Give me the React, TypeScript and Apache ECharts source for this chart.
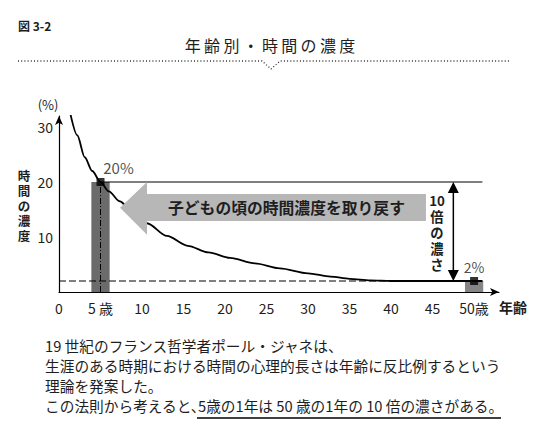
import React, { useEffect, useRef } from "react";
import * as echarts from "echarts";

// ---- data ----
const xTicks = [0, 5, 10, 15, 20, 25, 30, 35, 40, 45, 50];
const yTicks = [10, 20, 30];
const curveAges = [1.4, 2.2, 3.1, 4, 5, 6, 7.3, 9, 10.6, 13, 15.5, 18, 20.6, 23.6, 26.6, 30, 32.7, 35, 37.5, 40, 45, 51];
const curveValues = [32.2, 28.5, 24.5, 22, 20, 18.3, 16.5, 14.3, 12.5, 10.2, 8.4, 7.2, 6.2, 5.2, 4.3, 3.4, 2.8, 2.4, 2.1, 2, 2, 2];
const highlightAges = [5, 50];
const highlightValues = [20, 2];
const highlightLabels = ["20%", "2%"];
const compareLevels = [20, 2];
const arrowAge = 47.5;

const FONT = "'Noto Sans CJK JP', 'Noto Sans', sans-serif";
const INK = "#1e1e1e";

const titleText = "年齢別・時間の濃度";
const yNameChars = ["時", "間", "の", "濃", "度"];
const ratioChars = ["10", "倍", "の", "濃", "さ"];
const bodyLines = [
  "19 世紀のフランス哲学者ポール・ジャネは、",
  "生涯のある時期における時間の心理的長さは年齢に反比例するという",
  "理論を発案した。",
];
const lastLineA = "この法則から考えると、";
const lastLineB = "5歳の1年は 50 歳の1年の 10 倍の濃さがある。";

export default function App() {
  const ref = useRef<HTMLDivElement>(null);
  useEffect(() => {
    if (!ref.current) return;
    const chart = echarts.init(ref.current, null, { renderer: "svg" });
    const barHalf = 1.1;
    const barColors = ["#6b6b6b", "#858585"];
    const bodyFont = `14.7px ${FONT}`;

    const titleGraphics = titleText.split("").map((ch, i) => ({
      type: "text",
      x: 270 + (i - 4) * 19.3,
      y: 45,
      style: { text: ch, font: `16px ${FONT}`, fill: INK, align: "center", verticalAlign: "middle" },
    }));

    const yNameGraphics = yNameChars.map((ch, i) => ({
      type: "text",
      x: 24,
      y: 175 + i * 15,
      style: { text: ch, font: `bold 12.5px ${FONT}`, fill: INK, align: "center", verticalAlign: "middle" },
    }));

    const ratioGraphics = ratioChars.map((ch, i) => ({
      type: "text",
      x: 437,
      y: 200 + i * 16,
      style: { text: ch, font: `bold 13.3px ${FONT}`, fill: INK, align: "center", verticalAlign: "middle" },
    }));

    const bodyGraphics = bodyLines.map((t, i) => ({
      type: "text",
      x: 45,
      y: 345 + i * 20,
      style: { text: t, font: bodyFont, fill: INK, align: "left", verticalAlign: "middle" },
    }));

    chart.setOption({
      animation: false,
      backgroundColor: "#ffffff",
      textStyle: { fontFamily: FONT },
      grid: { left: 59, right: 41, top: 116, bottom: 140 },
      xAxis: {
        type: "value",
        min: 0,
        max: 53,
        axisLine: { show: true, symbol: ["none", "arrow"], symbolSize: [6, 9], lineStyle: { color: "#000", width: 1.2 } },
        axisTick: { show: false },
        splitLine: { show: false },
        axisLabel: {
          customValues: xTicks,
          margin: 9,
          fontSize: 14,
          color: INK,
          fontFamily: FONT,
          formatter: (v: number) => (v === 5 ? "5 歳" : v === 50 ? "50歳" : String(v)),
        },
      },
      yAxis: {
        type: "value",
        min: 0,
        max: 32,
        axisLine: { show: true, symbol: ["none", "arrow"], symbolSize: [6, 9], lineStyle: { color: "#000", width: 1.2 } },
        axisTick: { show: false },
        splitLine: { show: false },
        axisLabel: { customValues: yTicks, margin: 6, fontSize: 14, color: INK, fontFamily: FONT },
      },
      series: [
        {
          type: "custom",
          z: 1,
          data: highlightAges.map((a, i) => [a, highlightValues[i]]),
          renderItem: (params: any, api: any) => {
            const x = api.value(0);
            const v = api.value(1);
            const p0 = api.coord([x - barHalf, v]);
            const p1 = api.coord([x + barHalf, 0]);
            return {
              type: "rect",
              shape: { x: p0[0], y: p0[1], width: p1[0] - p0[0], height: p1[1] - p0[1] },
              style: { fill: barColors[params.dataIndex] },
            };
          },
        },
        {
          type: "line",
          z: 2,
          symbol: "none",
          data: [[highlightAges[0], compareLevels[0]], [51, compareLevels[0]]],
          lineStyle: { color: "#000", width: 1 },
        },
        {
          type: "line",
          z: 2,
          symbol: "none",
          data: [[0, compareLevels[1]], [51, compareLevels[1]]],
          lineStyle: { color: "#000", width: 1, type: [7, 3] },
        },
        {
          type: "line",
          z: 2,
          symbol: "none",
          data: [[highlightAges[0], 0], [highlightAges[0], highlightValues[0]]],
          lineStyle: { color: "#000", width: 1, type: [6, 2, 1, 2] },
        },
        {
          type: "line",
          z: 3,
          symbol: "none",
          smooth: 0.3,
          smoothMonotone: "x",
          data: curveAges.map((a, i) => [a, curveValues[i]]),
          lineStyle: { color: "#000", width: 1.8 },
        },
        {
          // big grey arrow
          type: "custom",
          z: 4,
          data: [[7.35, 44.2]],
          renderItem: (params: any, api: any) => {
            const tipX = api.value(0);
            const tailX = api.value(1);
            const headX = 10.6;
            const pts = [
              [tipX, 15.3],
              [headX, 20],
              [headX, 17.8],
              [tailX, 17.8],
              [tailX, 12.9],
              [headX, 12.9],
              [headX, 10.4],
            ].map((p) => api.coord(p));
            const c = api.coord([27.4, 15.35]);
            return {
              type: "group",
              children: [
                { type: "polygon", shape: { points: pts }, style: { fill: "#b7b7b7" } },
                {
                  type: "text",
                  x: c[0],
                  y: c[1],
                  style: {
                    text: "子どもの頃の時間濃度を取り戻す",
                    font: `bold 15.8px ${FONT}`,
                    fill: INK,
                    align: "center",
                    verticalAlign: "middle",
                  },
                },
              ],
            };
          },
        },
        {
          // double arrow for "10倍の濃さ"
          type: "custom",
          z: 4,
          data: [[arrowAge, compareLevels[0], compareLevels[1]]],
          renderItem: (params: any, api: any) => {
            const top = api.coord([api.value(0), api.value(1)]);
            const bot = api.coord([api.value(0), api.value(2)]);
            const hw = 5.5;
            const hh = 11;
            return {
              type: "group",
              children: [
                { type: "line", shape: { x1: top[0], y1: top[1] + 4, x2: bot[0], y2: bot[1] - 4 }, style: { stroke: "#000", lineWidth: 1.5 } },
                { type: "polygon", shape: { points: [[top[0], top[1]], [top[0] - hw, top[1] + hh], [top[0] + hw, top[1] + hh]] }, style: { fill: "#000" } },
                { type: "polygon", shape: { points: [[bot[0], bot[1]], [bot[0] - hw, bot[1] - hh], [bot[0] + hw, bot[1] - hh]] }, style: { fill: "#000" } },
              ],
            };
          },
        },
        {
          type: "scatter",
          z: 5,
          symbol: "rect",
          symbolSize: 8,
          itemStyle: { color: "#000" },
          data: highlightAges.map((a, i) => ({
            value: [a, highlightValues[i]],
            label: {
              show: true,
              formatter: highlightLabels[i],
              position: "top",
              offset: i === 0 ? [18, 2] : [0, 2],
              fontSize: i === 0 ? 15 : 14,
              color: INK,
              fontFamily: FONT,
            },
          })),
        },
      ],
      graphic: [
        {
          type: "text",
          x: 18,
          y: 25,
          style: { text: "図 3-2", font: `bold 12px ${FONT}`, fill: INK, align: "left", verticalAlign: "middle" },
        },
        ...titleGraphics,
        {
          type: "polyline",
          shape: { points: [[18, 61], [262, 61], [271, 69], [280, 61], [510, 61]] },
          style: { stroke: "#333", lineWidth: 1.3, lineDash: [1, 2.2], fill: null },
        },
        {
          type: "text",
          x: 48,
          y: 104,
          style: { text: "(%)", font: `13px ${FONT}`, fill: INK, align: "center", verticalAlign: "middle" },
        },
        ...yNameGraphics,
        ...ratioGraphics,
        {
          type: "text",
          x: 513,
          y: 307,
          style: { text: "年齢", font: `bold 14px ${FONT}`, fill: INK, align: "center", verticalAlign: "middle" },
        },
        ...bodyGraphics,
        {
          type: "text",
          x: 45,
          y: 405,
          style: { text: lastLineA, font: bodyFont, fill: INK, align: "left", verticalAlign: "middle" },
        },
        {
          type: "text",
          x: 198,
          y: 405,
          style: { text: lastLineB, font: bodyFont, fill: INK, align: "left", verticalAlign: "middle" },
        },
        {
          type: "line",
          shape: { x1: 197, y1: 418, x2: 501, y2: 418 },
          style: { stroke: "#000", lineWidth: 1.3 },
        },
      ],
    });
    return () => chart.dispose();
  }, []);
  return (
    <div
      ref={ref}
      style={{ position: "fixed", left: 0, top: 0, width: 540, height: 432, background: "#fff" }}
    />
  );
}
